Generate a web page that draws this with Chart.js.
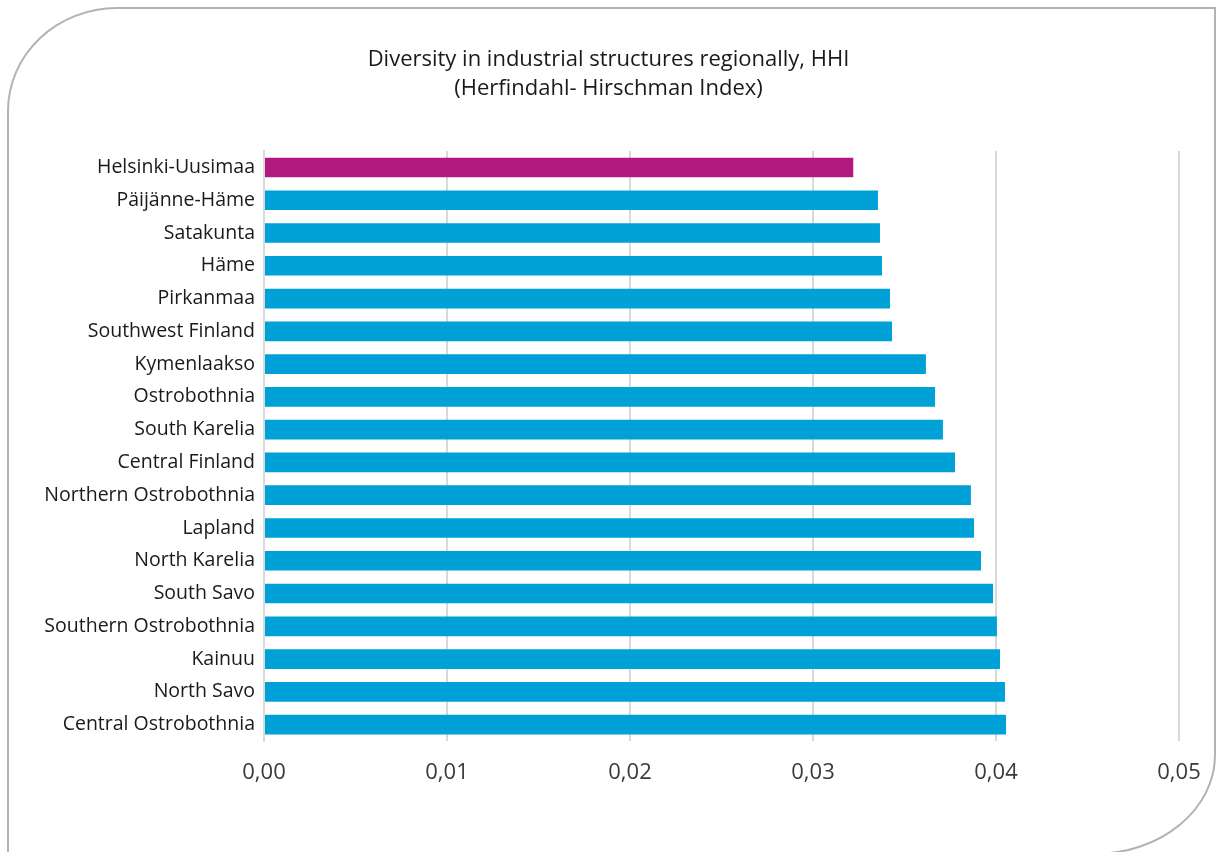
<!DOCTYPE html>
<html>
<head>
<meta charset="utf-8">
<script src="https://cdn.jsdelivr.net/npm/chart.js@4/dist/chart.umd.min.js"></script>
<style>
  html, body { margin: 0; padding: 0; background: #fff; }
  #wrap { position: relative; width: 1216px; height: 852px; overflow: hidden; }
  #frame {
    position: absolute; left: 7px; top: 7px; width: 1209px; height: 848px;
    border: 2.5px solid #b3b3b3; box-sizing: border-box;
    border-top-left-radius: 110px 104px; border-bottom-right-radius: 122px 100px;
    pointer-events: none;
  }
  canvas { position: absolute; left: 0; top: 0; }
</style>
</head>
<body>
<div id="wrap">
  <canvas id="c" width="1216" height="852"></canvas>
  <div id="frame"></div>
</div>
<script>
const regions = [
  "Helsinki-Uusimaa", "Päijänne-Häme", "Satakunta", "Häme", "Pirkanmaa",
  "Southwest Finland", "Kymenlaakso", "Ostrobothnia", "South Karelia",
  "Central Finland", "Northern Ostrobothnia", "Lapland", "North Karelia",
  "South Savo", "Southern Ostrobothnia", "Kainuu", "North Savo",
  "Central Ostrobothnia"
];
const hhiValues = [
  0.0322, 0.03355, 0.03366, 0.03377, 0.03421,
  0.03432, 0.03617, 0.03667, 0.0371,
  0.03776, 0.03863, 0.0388, 0.03918,
  0.03984, 0.04005, 0.04022, 0.04049,
  0.04055
];
const xTicks = [0, 0.01, 0.02, 0.03, 0.04, 0.05];
const titleLines = ["Diversity in industrial structures regionally, HHI", "(Herfindahl- Hirschman Index)"];

const FONT = "'Open Sans', 'Noto Sans', sans-serif";
const barColors = regions.map((r, i) => i === 0 ? '#b3187f' : '#00a1d6');

new Chart(document.getElementById('c'), {
  type: 'bar',
  data: {
    labels: regions,
    datasets: [{
      data: hhiValues,
      backgroundColor: barColors,
      borderWidth: 0,
      barPercentage: 0.6,
      categoryPercentage: 1.0
    }]
  },
  options: {
    indexAxis: 'y',
    responsive: false,
    animation: false,
    layout: { padding: { left: 38, right: 37, top: 0, bottom: 0 } },
    plugins: {
      legend: { display: false },
      tooltip: { enabled: false },
      title: {
        display: true,
        text: titleLines,
        color: '#1a1a1a',
        font: { family: FONT, size: 22, weight: 'normal', lineHeight: 1.32 },
        padding: { top: 45, bottom: 48 }
      }
    },
    scales: {
      x: {
        min: 0, max: 0.05,
        afterBuildTicks: (s) => { s.ticks = xTicks.map(v => ({ value: v })); },
        afterFit: (s) => { s.height = 111; s.paddingLeft = 0; s.paddingRight = 0; },
        grid: { color: '#d9d9d9', lineWidth: 2, drawTicks: false },
        border: { display: false },
        ticks: {
          color: '#3a3a3a',
          font: { family: FONT, size: 22 },
          padding: 19,
          callback: (v) => Number(v).toFixed(2).replace('.', ',')
        }
      },
      y: {
        afterFit: (s) => { s.width = 226; s.paddingTop = 0; s.paddingBottom = 0; },
        grid: { display: false, drawTicks: false },
        border: { display: true, color: '#d9d9d9', width: 2 },
        ticks: {
          color: '#1a1a1a',
          font: { family: FONT, size: 19.5 },
          padding: 9,
          autoSkip: false
        }
      }
    }
  }
});
</script>
</body>
</html>
